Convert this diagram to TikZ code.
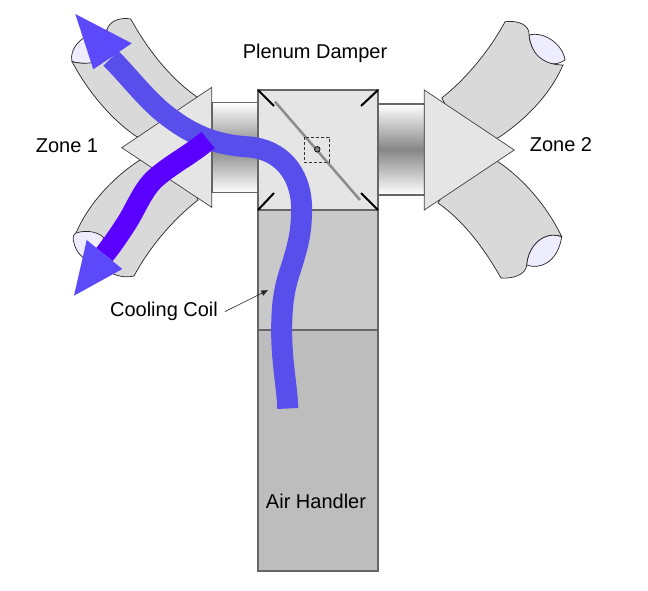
\documentclass[tikz,border=0pt]{standalone}
\usepackage{fontspec}
\setmainfont{Liberation Sans}
\usetikzlibrary{arrows.meta}
\definecolor{tubegray}{HTML}{D9D9D9}
\definecolor{capfill}{HTML}{EEEDFF}
\definecolor{lightface}{HTML}{E5E5E5}
\definecolor{coilgray}{HTML}{C9C9C9}
\definecolor{handlergray}{HTML}{BDBDBD}
\definecolor{edgegray}{HTML}{666666}
\definecolor{flowblue}{HTML}{574EEB}
\definecolor{headblue}{HTML}{5C4AFA}
\definecolor{flowviolet}{HTML}{5A00FF}
\tikzset{
  tube/.style={draw=black!85,fill=tubegray,line width=.7pt},
  tubecap/.style={draw=black!85,fill=capfill,line width=.7pt},
  cone/.style={draw=black!75,fill=lightface,line width=.7pt},
  boxface/.style={draw=edgegray,line width=1.1pt},
  ductface/.style={draw=edgegray,line width=1.1pt,top color=white,bottom color=white,middle color=gray!95},
  corner/.style={draw=black,line width=2pt},
  flow/.style={line width=21pt,draw=flowblue},
  flowb/.style={line width=21pt,draw=flowviolet},
  head/.style={fill=headblue},
  label/.style={font=\fontsize{20}{24}\selectfont,inner sep=0pt}
}
\begin{document}
\begin{tikzpicture}[x=1pt,y=-1pt]
\useasboundingbox (0,0) rectangle (648,590);
% upper left tube
\path[tubecap] (72,61.5) .. controls (69,50) and (80,33) .. (107,30) -- (110,62) .. controls (95,64) and (80,64) .. (72,61.5) -- cycle;
\path[tube] (130.7,19) .. controls (120,17) and (109,21) .. (107,30) .. controls (112,45) and (105,58) .. (95,62) .. controls (87,64) and (78,63.5) .. (72,61.5)
  .. controls (88,92) and (112,120) .. (136.7,136.7) -- (175,140) -- (196.7,96.7) .. controls (170,78) and (148,50) .. (130.7,19) -- cycle;
% lower left tube
\path[tube] (76,233) .. controls (88,205) and (112,178) .. (140,160) -- (170,148) -- (198,200) .. controls (170,222) and (148,250) .. (134,276)
  .. controls (125,278) and (116,276) .. (110,272) -- (76,233) -- cycle;
\path[tubecap] (76,233) .. controls (72,235) and (73,240) .. (74,243) .. controls (76,252) and (82,258) .. (90,262) -- (104,238) .. controls (100,233) and (88,229) .. (76,233) -- cycle;
% upper right tube
\path[tubecap] (529,35) .. controls (545,31) and (563,45) .. (565,60) .. controls (550,70) and (532,60) .. (529,35) -- cycle;
\path[tube] (505,21.7) .. controls (518,20) and (530,25) .. (529,35) .. controls (530,50) and (540,65) .. (563,65)
  .. controls (550,95) and (525,120) .. (498,138) -- (465,140) -- (441.7,98) .. controls (465,80) and (490,50) .. (505,21.7) -- cycle;
% lower right tube
\path[tubecap] (561.7,236.7) .. controls (545,230) and (528,245) .. (526.7,265) .. controls (540,270) and (558,262) .. (561.7,236.7) -- cycle;
\path[tube] (498,161.7) .. controls (525,180) and (548,208) .. (561.7,236.7) .. controls (545,230) and (528,245) .. (526.7,265) .. controls (526,275) and (512,279) .. (501,278)
  .. controls (485,250) and (465,222) .. (438,203) -- (465,160) -- cycle;
% ducts
\path[ductface] (212,102.7) rectangle (258,192.7);
\path[ductface] (378.7,104) rectangle (424.3,195);
% cones
\path[cone] (211.7,87.3) -- (121.7,147.7) -- (211.7,207.3) -- cycle;
\path[cone] (424.3,90) -- (514.3,150) -- (424.3,210) -- cycle;
% air handler
\node[boxface,fill=handlergray,minimum width=120pt,minimum height=241pt,inner sep=0pt] (handler) at (318,450.5) {};
\node[boxface,fill=coilgray,minimum width=120pt,minimum height=120pt,inner sep=0pt] (coil) at (318,270) {};
\node[boxface,fill=lightface,minimum width=120pt,minimum height=120pt,inner sep=0pt] (damper) at (318,150) {};
% damper
\draw[corner] (258,90) -- (274,106);
\draw[corner] (378,90) -- (361,106);
\draw[corner] (258,210) -- (274,193);
\draw[corner] (378,210) -- (361,193);
\draw[line width=2.5pt,draw=black!45] (275,101.7) -- (360,200);
\draw[densely dashed,line width=.7pt,draw=black!80] (304.3,137.3) rectangle (329.3,162.3);
\draw[line width=.7pt,fill=gray] (317.3,149.3) circle (2.8pt);
% main flow
\draw[flow] (287.8,408.5) .. controls (287,385) and (281,360) .. (281.7,325)
  .. controls (282,295) and (287,280) .. (292,265)
  .. controls (298,245) and (302,232) .. (301.5,205)
  .. controls (300,172) and (280,150) .. (250,147)
  .. controls (215,145) and (190,135) .. (160,110)
  .. controls (140,92) and (125,72) .. (110.8,58.3);
\path[head] (75.3,14) -- (131.7,43.3) -- (93.3,69.3) -- cycle;
% second flow
\draw[flowb] (208,140) .. controls (190,155) and (175,162) .. (158,176)
  .. controls (143,188) and (137,207) .. (126,224)
  .. controls (119,235) and (112,245) .. (104.5,254.5);
\path[head] (74,295.7) -- (122.3,269) -- (86.7,240) -- cycle;
% labels
\node[label] (plenum) at (315,53) {Plenum Damper};
\node[label] (zone1) at (67,146) {Zone 1};
\node[label] (zone2) at (561,145) {Zone 2};
\node[label,inner xsep=7pt] (coolcoil) at (164,311.5) {Cooling Coil};
\node[label] (air) at (316,501) {Air Handler};
\coordinate (coiltip) at (268.3,290);
\draw[line width=.6pt,draw=black!85,-{Latex[length=7pt,width=6pt]}] (coolcoil.east) -- (coiltip);
\end{tikzpicture}
\end{document}
